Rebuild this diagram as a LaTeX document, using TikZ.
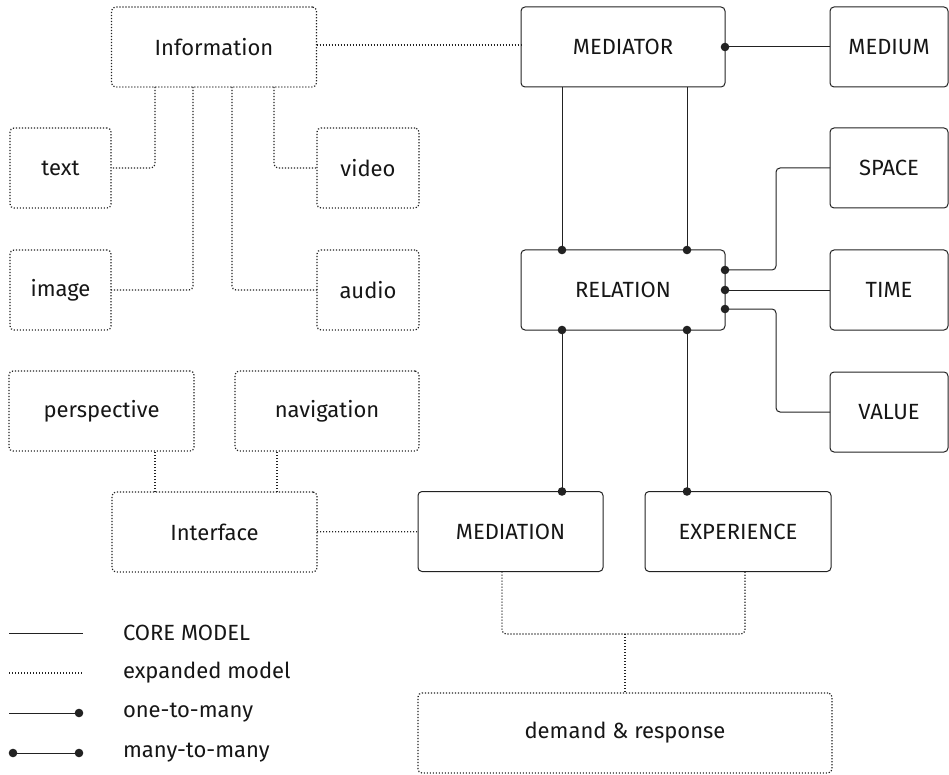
\documentclass[tikz,border=0pt]{standalone}
\usepackage{fontspec}
\setmainfont{Fira Sans}
\usetikzlibrary{calc}
\definecolor{ink}{HTML}{161616}
\definecolor{linec}{HTML}{222222}
\begin{document}
\begin{tikzpicture}[x=1pt,y=-1pt,
  every node/.style={font=\fontsize{22}{26}\selectfont, text=ink, inner sep=0pt, outer sep=0pt},
  corebox/.style={draw=linec, line width=1pt, rounded corners=4pt, minimum height=80pt},
  expbox/.style={draw=linec, line width=1.2pt, dash pattern=on 1.2pt off 1.8pt, rounded corners=4pt, minimum height=80pt},
  coreline/.style={draw=linec, line width=1pt},
  expline/.style={draw=linec, line width=1.2pt, dash pattern=on 1.2pt off 1.8pt, rounded corners=4pt},
  dot/.style={fill=linec}
]
\useasboundingbox (0,0) rectangle (949,775);
% expanded nodes
\node[expbox, minimum width=205pt] (Information) at (214,47) {Information};
\node[expbox, minimum width=101pt] (text) at (60.5,168) {text};
\node[expbox, minimum width=102pt] (video) at (368,168) {video};
\node[expbox, minimum width=101pt] (image) at (60.5,290) {image};
\node[expbox, minimum width=102pt] (audio) at (368,290) {audio};
\node[expbox, minimum width=185pt] (perspective) at (101.5,411) {perspective};
\node[expbox, minimum width=184pt] (navigation) at (327,411) {navigation};
\node[expbox, minimum width=205pt] (Interface) at (214.5,532) {Interface};
\node[expbox, minimum width=414pt] (demand) at (625,733) {demand \& response};
% core nodes
\node[corebox, minimum width=204pt] (MEDIATOR) at (623,47) {MEDIATOR};
\node[corebox, minimum width=118pt] (MEDIUM) at (889,47) {MEDIUM};
\node[corebox, minimum width=118pt] (SPACE) at (889,168) {SPACE};
\node[corebox, minimum width=118pt] (TIME) at (889,290) {TIME};
\node[corebox, minimum width=118pt] (VALUE) at (889,412) {VALUE};
\node[corebox, minimum width=204pt] (RELATION) at (623,290) {RELATION};
\node[corebox, minimum width=185pt] (MEDIATION) at (510.5,531.5) {MEDIATION};
\node[corebox, minimum width=186pt] (EXPERIENCE) at (738,531.5) {EXPERIENCE};

% expanded connectors
\draw[expline] ([xshift=-59]Information.south) |- (text);
\draw[expline] ([xshift=-21]Information.south) |- (image);
\draw[expline] ([xshift=18]Information.south) |- (audio);
\draw[expline] ([xshift=60]Information.south) |- (video);
\draw[expline] (Information.east |- 0,45) -- (MEDIATOR.west |- 0,45);
\coordinate (pi) at ([xshift=-59.5]Interface.north);
\coordinate (ni) at ([xshift=62.5]Interface.north);
\draw[expline] (pi) -- (pi |- perspective.south);
\draw[expline] (ni) -- (ni |- navigation.south);
\draw[expline] (Interface) -- (MEDIATION);
\coordinate (join) at (625,634);
\draw[expline] ([xshift=-8.5]MEDIATION.south) |- (join) -| ([xshift=7]EXPERIENCE.south);
\draw[expline] (join) -- (demand.north);

% core connectors
\draw[coreline] (MEDIATOR) -- (MEDIUM);
\fill[dot] (MEDIATOR.east) circle (4.3pt);
\coordinate (m1) at ([xshift=-61]MEDIATOR.south);
\coordinate (m2) at ([xshift=64]MEDIATOR.south);
\draw[coreline] (m1) -- (m1 |- RELATION.north);
\draw[coreline] (m2) -- (m2 |- RELATION.north);
\fill[dot] (m1 |- RELATION.north) circle (4.3pt);
\fill[dot] (m2 |- RELATION.north) circle (4.3pt);
\coordinate (rs) at ([yshift=20]RELATION.east);
\coordinate (rv) at ([yshift=-19]RELATION.east);
\draw[coreline, rounded corners=4pt] (rs) -- ++(51,0) |- (SPACE);
\draw[coreline] (RELATION) -- (TIME);
\draw[coreline, rounded corners=4pt] (rv) -- ++(51,0) |- (VALUE);
\fill[dot] (rs) circle (4.3pt);
\fill[dot] (RELATION.east) circle (4.3pt);
\fill[dot] (rv) circle (4.3pt);
\coordinate (r1) at ([xshift=-61]RELATION.south);
\coordinate (r2) at ([xshift=64]RELATION.south);
\draw[coreline] (r1) -- (r1 |- MEDIATION.north);
\draw[coreline] (r2) -- (r2 |- EXPERIENCE.north);
\fill[dot] (r1) circle (4.3pt);
\fill[dot] (r2) circle (4.3pt);
\fill[dot] (r1 |- MEDIATION.north) circle (4.3pt);
\fill[dot] (r2 |- EXPERIENCE.north) circle (4.3pt);

% legend
\coordinate (l1a) at (9,633); \coordinate (l1b) at (83,633);
\coordinate (l2a) at (9,673); \coordinate (l2b) at (83,673);
\coordinate (l3a) at (9,713); \coordinate (l3b) at (79,713);
\coordinate (l4a) at (13,753); \coordinate (l4b) at (79,753);
\draw[coreline] (l1a) -- (l1b);
\draw[expline] (l2a) -- (l2b);
\draw[coreline] (l3a) -- (l3b);
\fill[dot] (l3b) circle (4.3pt);
\draw[coreline] (l4a) -- (l4b);
\fill[dot] (l4a) circle (4.3pt);
\fill[dot] (l4b) circle (4.3pt);
\node[anchor=west] (lg1) at (123,633) {CORE MODEL};
\node[anchor=west] (lg2) at (123,673) {expanded model};
\node[anchor=west] (lg3) at (123,713) {one-to-many};
\node[anchor=west] (lg4) at (123,753) {many-to-many};
\end{tikzpicture}
\end{document}
